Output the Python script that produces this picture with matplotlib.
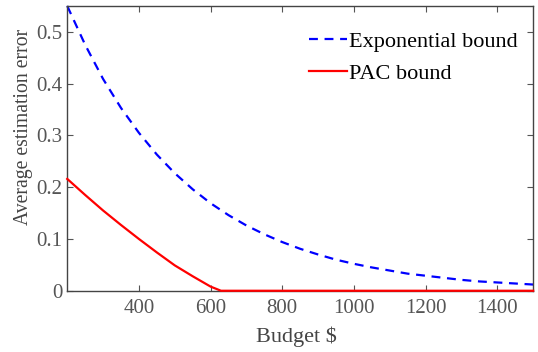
import numpy as np
from matplotlib import pyplot as plt

plt.rcParams['font.family'] = ['Liberation Serif', 'DejaVu Serif']

budget = [200, 250, 300, 350, 400, 450, 500, 550, 600, 650, 700, 750, 800, 850,
          900, 950, 1000, 1050, 1100, 1150, 1200, 1250, 1300, 1350, 1400, 1450, 1500]
expBound = [0.550, 0.475, 0.409, 0.353, 0.305, 0.263, 0.227, 0.196, 0.169, 0.146,
            0.126, 0.109, 0.094, 0.081, 0.070, 0.060, 0.052, 0.045, 0.039, 0.033,
            0.029, 0.025, 0.021, 0.018, 0.016, 0.014, 0.012]

pacBudget = [200, 250, 300, 350, 400, 450, 500, 550, 600, 629, 700, 800, 1000, 1200, 1500]
pacBound = [0.216, 0.185, 0.155, 0.127, 0.100, 0.074, 0.049, 0.028, 0.008, 0.0,
            0.0, 0.0, 0.0, 0.0, 0.0]

xticks = [400, 600, 800, 1000, 1200, 1400]
yticks = [0, 0.1, 0.2, 0.3, 0.4, 0.5]

fig = plt.figure(figsize=(5.38, 3.52), dpi=100)
ax = fig.add_axes([0.125, 0.174, 0.866, 0.809])

ax.plot(budget, expBound, color='#0000ff', linestyle=(0, (4, 3)), linewidth=1.6,
        label='Exponential bound', clip_on=False)
ax.plot(pacBudget, pacBound, color='#ff0000', linewidth=1.6, label='PAC bound',
        clip_on=False, zorder=5)

ax.set_xlim(200, 1500)
ax.set_ylim(0, 0.55)
ax.set_xticks(xticks)
ax.set_yticks(yticks)
ax.set_yticklabels(['0', '0.1', '0.2', '0.3', '0.4', '0.5'])

ax.tick_params(direction='in', top=True, right=True, length=4, width=0.8,
               colors='#555555', labelsize=15)
ax.tick_params(axis='x', pad=6)
for s in ax.spines.values():
    s.set_color('#444444')
    s.set_linewidth(1.0)

ax.set_xlabel('Budget $', fontsize=16, color='#444444')
ax.set_ylabel('Average estimation error', fontsize=14.2, color='#444444')
ax.xaxis.set_label_coords(0.491, -0.127)
ax.yaxis.set_label_coords(-0.074, 0.575)

leg = ax.legend(loc='upper right', bbox_to_anchor=(1.0, 0.965), frameon=False,
                fontsize=16, handlelength=1.7, handletextpad=0.1,
                labelspacing=0.5, borderaxespad=0.3)

plt.savefig('out.png')
